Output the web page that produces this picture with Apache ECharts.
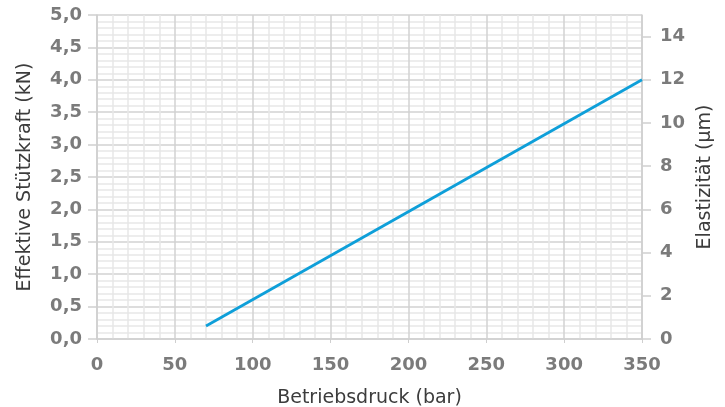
<!DOCTYPE html>
<html>
<head>
<meta charset="utf-8">
<script src="https://cdn.jsdelivr.net/npm/echarts@6/dist/echarts.min.js"></script>
<style>html,body{margin:0;padding:0;background:#fff}#c{width:725px;height:407px}</style>
</head>
<body>
<div id="c"></div>
<script>
// Data
var pressure = [70, 350];          // Betriebsdruck (bar)
var force = [0.2, 4.0];            // Effektive Stützkraft (kN)
var xName = 'Betriebsdruck (bar)';
var yLeftName = 'Effektive Stützkraft (kN)';
var yRightName = 'Elastizität (µm)';

var seriesData = pressure.map(function (p, i) { return [p, force[i]]; });

var labelStyle = { fontFamily: 'DejaVu Sans', fontWeight: 'bold', fontSize: 18, color: '#7b7b7b' };
var nameStyle = { fontFamily: 'DejaVu Sans', fontSize: 19, color: '#3c3c3c' };
var majorLine = { show: true, lineStyle: { color: '#d2d2d2', width: 1.5 } };
var minorLine = { show: true, lineStyle: { color: '#e8e8e8', width: 1.5 } };

var chart = echarts.init(document.getElementById('c'), null, { renderer: 'canvas' });
chart.setOption({
  animation: false,
  grid: { left: 97, right: 83, top: 15, bottom: 68, containLabel: false, outerBoundsMode: 'none' },
  xAxis: {
    type: 'value', min: 0, max: 350, interval: 50,
    name: xName, nameLocation: 'middle', nameGap: 50, nameTextStyle: nameStyle,
    axisLine: { show: true, lineStyle: { color: '#cfcfcf', width: 1.5 } },
    axisTick: { show: true, length: 4, lineStyle: { color: '#cfcfcf' } },
    axisLabel: Object.assign({ margin: 17 }, labelStyle),
    splitLine: majorLine,
    minorTick: { show: false, splitNumber: 5 },
    minorSplitLine: minorLine
  },
  yAxis: [{
    type: 'value', min: 0, max: 5, interval: 0.5, position: 'left',
    name: yLeftName, nameLocation: 'middle', nameGap: 62, nameTextStyle: nameStyle,
    axisLine: { show: true, lineStyle: { color: '#cfcfcf', width: 1.5 } },
    axisTick: { show: true, length: 9, lineStyle: { color: '#cfcfcf', width: 1.5 } },
    axisLabel: Object.assign({ margin: 15, formatter: function (v) { return v.toFixed(1).replace('.', ','); } }, labelStyle),
    splitLine: majorLine,
    minorTick: { show: false, splitNumber: 5 },
    minorSplitLine: minorLine
  }, {
    type: 'value', min: 0, max: 15, interval: 2, position: 'right',
    name: yRightName, nameLocation: 'middle', nameGap: 42, nameTextStyle: nameStyle,
    axisLine: { show: true, lineStyle: { color: '#cfcfcf', width: 1.5 } },
    axisTick: { show: true, length: 9, lineStyle: { color: '#cfcfcf', width: 1.5 } },
    axisLabel: Object.assign({ margin: 18, showMaxLabel: false, formatter: function (v) { return v > 14 ? '' : String(v); } }, labelStyle),
    splitLine: { show: false }
  }],
  series: [{
    type: 'line', data: seriesData, yAxisIndex: 0,
    showSymbol: false, symbol: 'none',
    lineStyle: { color: '#0e9fd9', width: 2.8 }
  }]
});
</script>
</body>
</html>
